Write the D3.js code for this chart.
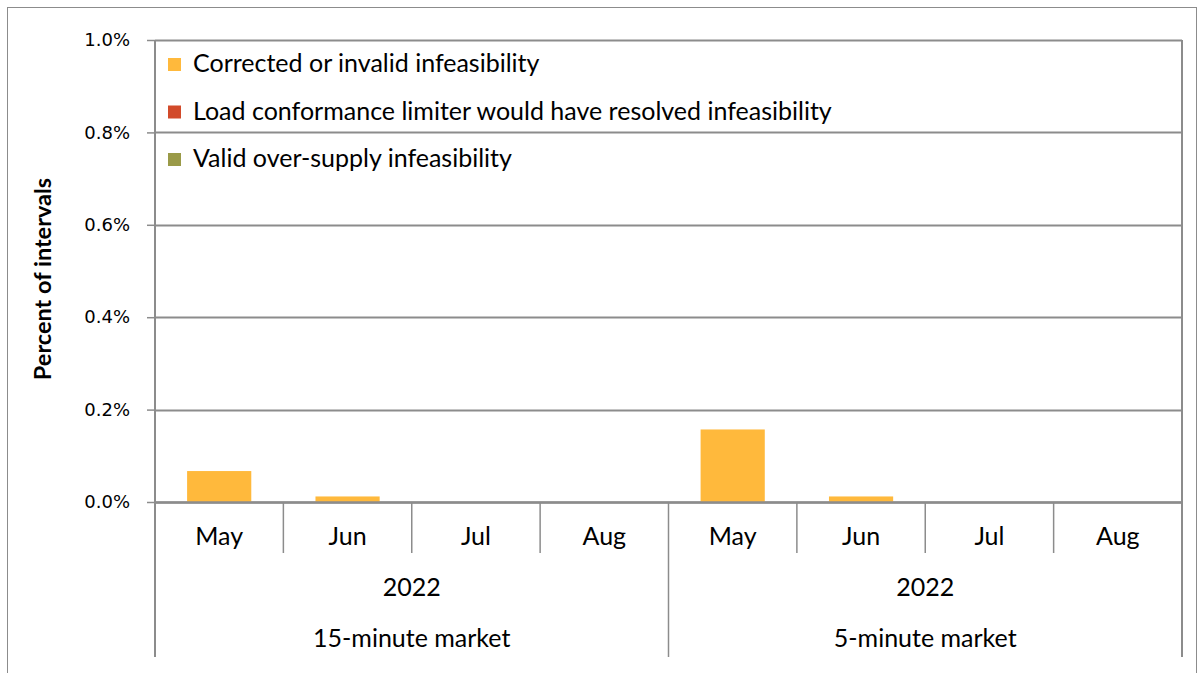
<!DOCTYPE html>
<html>
<head>
<meta charset="utf-8">
<script src="https://cdn.jsdelivr.net/npm/d3@7"></script>
<style>
  body { margin: 0; background: #fff; }
  text { font-family: Lato, "Open Sans", sans-serif; fill: #000; }
</style>
</head>
<body>
<svg id="chart" width="1199" height="673"></svg>
<script>
// Categories: market group + month
const groups = ["15-minute market", "5-minute market"];
const years = ["2022", "2022"];
const months = ["May", "Jun", "Jul", "Aug"];

// Series (percent of intervals)
const seriesNames = [
    "Corrected or invalid infeasibility",
    "Load conformance limiter would have resolved infeasibility",
    "Valid over-supply infeasibility"
];
const seriesColors = ["#ffb93c", "#d24a2a", "#9a9a48"];
const corrected = [0.067, 0.012, 0, 0, 0.157, 0.012, 0, 0];
const loadLimiter = [0, 0, 0, 0, 0, 0, 0, 0];
const validOver = [0, 0, 0, 0, 0, 0, 0, 0];
const yTicks = [0, 0.2, 0.4, 0.6, 0.8, 1.0];

const svg = d3.select("#chart");
const margin = {left: 155, right: 17, top: 40, bottom: 171};
const W = 1199, H = 673;
const plotBottom = H - margin.bottom;
const labelSize = "25px";

const cats = [];
groups.forEach((g, gi) => months.forEach(m => cats.push({key: gi + "-" + m, group: gi, month: m, i: cats.length})));

const rows = cats.map((c, i) => ({
    key: c.key,
    s0: corrected[i],
    s1: loadLimiter[i],
    s2: validOver[i]
}));

const x = d3.scaleBand().domain(cats.map(c => c.key)).range([margin.left, W - margin.right]).padding(0);
const y = d3.scaleLinear().domain([0, 1]).range([plotBottom, margin.top]);

const gridColor = "#8c8c8c";

// Outer border
svg.append("rect")
    .attr("x", 7.5).attr("y", 7.5)
    .attr("width", W - 10).attr("height", H)
    .attr("fill", "none").attr("stroke", "#8c8c8c").attr("stroke-width", 1);

// Gridlines
svg.append("g").selectAll("line").data(yTicks).enter().append("line")
    .attr("x1", margin.left).attr("x2", W - margin.right)
    .attr("y1", d => Math.round(y(d)) + 0.5).attr("y2", d => Math.round(y(d)) + 0.5)
    .attr("stroke", gridColor).attr("stroke-width", 2);

// Y axis
const yAxis = svg.append("g")
    .attr("transform", `translate(${margin.left},0)`)
    .call(d3.axisLeft(y).tickValues(yTicks).tickSize(8).tickPadding(17).tickFormat(d => d.toFixed(1) + "%"));
yAxis.select(".domain").remove();
yAxis.selectAll(".tick line").attr("stroke", gridColor).attr("stroke-width", 1.5);
yAxis.selectAll(".tick text").style("font-size", "18px").style("font-family", "'DejaVu Sans', sans-serif");

// Axis line through the category label area
svg.append("line")
    .attr("x1", margin.left).attr("x2", margin.left)
    .attr("y1", margin.top).attr("y2", 657)
    .attr("stroke", gridColor).attr("stroke-width", 2);

// Right plot border
svg.append("line")
    .attr("x1", W - margin.right).attr("x2", W - margin.right)
    .attr("y1", margin.top).attr("y2", 657)
    .attr("stroke", gridColor).attr("stroke-width", 2);

// Stacked bars
const stacked = d3.stack().keys(["s0", "s1", "s2"])(rows);
const bw = x.bandwidth();
svg.append("g").selectAll("g").data(stacked).enter().append("g")
    .attr("fill", (d, i) => seriesColors[i])
    .selectAll("rect").data(d => d).enter().append("rect")
    .attr("x", d => x(d.data.key) + bw * 0.25)
    .attr("width", bw * 0.5)
    .attr("y", d => y(d[1]))
    .attr("height", d => y(d[0]) - y(d[1]));

// X axis baseline
svg.append("line")
    .attr("x1", margin.left).attr("x2", W - margin.right)
    .attr("y1", plotBottom + 0.5).attr("y2", plotBottom + 0.5)
    .attr("stroke", gridColor).attr("stroke-width", 2.5);

// Month separators
svg.append("g").selectAll("line").data(cats.filter(c => c.i % 4 !== 0)).enter().append("line")
    .attr("x1", d => x(d.key)).attr("x2", d => x(d.key))
    .attr("y1", plotBottom).attr("y2", 553)
    .attr("stroke", gridColor).attr("stroke-width", 1.5);

// Group separator
svg.append("line")
    .attr("x1", x(cats[4].key)).attr("x2", x(cats[4].key))
    .attr("y1", plotBottom).attr("y2", 657)
    .attr("stroke", gridColor).attr("stroke-width", 1.5);

// Month labels
svg.append("g").selectAll("text").data(cats).enter().append("text")
    .attr("x", d => x(d.key) + bw / 2)
    .attr("y", 545)
    .attr("text-anchor", "middle")
    .style("font-size", labelSize)
    .text(d => d.month);

// Year and group labels
const groupMid = gi => (x(cats[gi * 4].key) + x(cats[gi * 4 + 3].key) + bw) / 2;
svg.append("g").selectAll("text").data(years).enter().append("text")
    .attr("x", (d, i) => groupMid(i))
    .attr("y", 596)
    .attr("text-anchor", "middle")
    .style("font-size", labelSize)
    .text(d => d);
svg.append("g").selectAll("text").data(groups).enter().append("text")
    .attr("x", (d, i) => groupMid(i))
    .attr("y", 647)
    .attr("text-anchor", "middle")
    .style("font-size", labelSize)
    .text(d => d);

// Y axis title
svg.append("text")
    .attr("transform", `translate(51,${(margin.top + plotBottom) / 2 + 8}) rotate(-90)`)
    .attr("text-anchor", "middle")
    .style("font-size", "23.5px")
    .style("font-weight", "bold")
    .text("Percent of intervals");

// Legend
const legend = svg.append("g").selectAll("g").data(seriesNames).enter().append("g")
    .attr("transform", (d, i) => `translate(168,${64 + i * 47.5})`);
legend.append("rect")
    .attr("x", 0).attr("y", -6).attr("width", 13).attr("height", 13)
    .attr("fill", (d, i) => seriesColors[i]);
legend.append("text")
    .attr("x", 25).attr("y", 8)
    .style("font-size", labelSize)
    .text(d => d);
</script>
</body>
</html>
